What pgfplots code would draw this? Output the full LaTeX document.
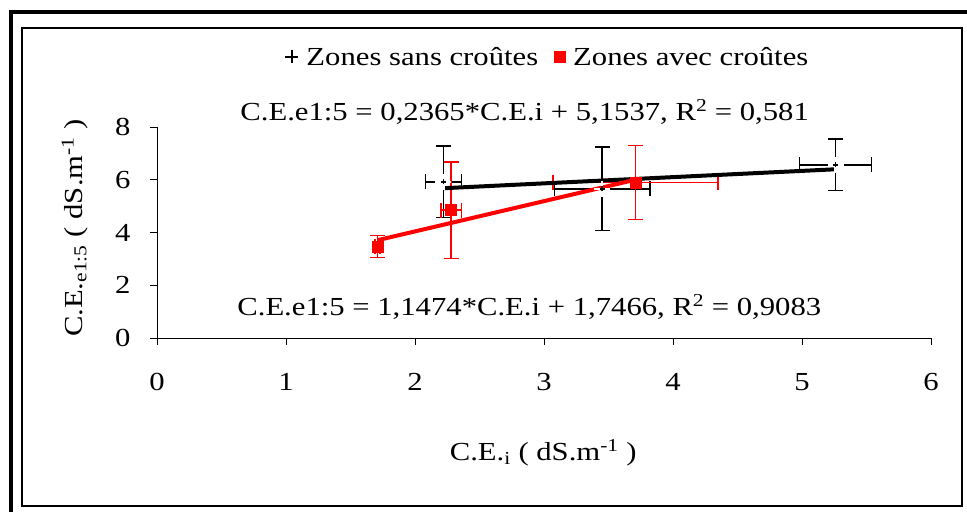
\documentclass[border=0pt]{standalone}
\usepackage{fontspec}
\setmainfont{Liberation Serif}[FakeStretch=1.18]
\usepackage{pgfplots}
\pgfplotsset{compat=1.18}
\usepackage{pgfplotstable}

% x  y  ex  ey : means with their standard deviations
\pgfplotstableread{
x     y     ex    ey
2.22  5.92  0.14  1.35
3.45  5.66  0.37  1.59
5.26  6.57  0.28  0.98
}\sanscroutes
\pgfplotstableread{
x     y     ex    ey
1.71  3.47  0.02  0.42
2.28  4.85  0.08  1.83
3.71  5.90  0.64  1.40
}\aveccroutes

\newcommand{\bigfont}{\fontsize{26bp}{31bp}\selectfont}

\pgfplotsset{
  errbars/.style={
    error bars/.cd, x dir=both, y dir=both, x explicit, y explicit,
    error bar style={line width=1.6bp, #1},
    error mark options={rotate=90, mark size=7.5bp, line width=1.6bp, #1},
  },
}

\begin{document}
\begin{tikzpicture}[font=\bigfont]
\useasboundingbox (0,0) rectangle (967bp,512bp);
% frames
\draw[line width=4bp] (11bp,0) -- (11bp,500bp) -- (967bp,500bp);
\draw[line width=1.5bp] (22bp,6bp) rectangle (962bp,484bp);

\begin{axis}[
  at={(157bp,174bp)}, anchor=south west,
  scale only axis, width=774bp, height=211bp,
  xmin=0, xmax=6, ymin=0, ymax=8,
  xtick={0,...,6}, ytick={0,2,...,8},
  axis x line=bottom, axis y line=left,
  axis line style={-, line width=1bp},
  tick align=outside, major tick length=7bp,
  tick style={line width=1bp, black},
  /pgf/number format/assume math mode=true,
  tick label style={font=\bigfont},
  xticklabel style={yshift=-25bp},
  yticklabel shift=16bp,
  label style={font=\bigfont},
  xlabel={C.E.\textsubscript{i} ( dS.m\textsuperscript{-1} )},
  ylabel={C.E.\textsubscript{e1:5} ( dS.m\textsuperscript{-1} )},
  xlabel style={at={(axis description cs:0.499,-0.545)}, anchor=center},
  ylabel style={at={(axis description cs:-0.106,0.521)}, anchor=center},
  clip=false,
  legend columns=2,
  legend style={at={(axis description cs:0.505,1.332)}, anchor=center,
    draw=none, fill=none, font=\bigfont,
    /tikz/every odd column/.append style={column sep=6bp},
    /tikz/every even column/.append style={column sep=14bp}},
  legend cell align=left,
]
\addplot[black, only marks, mark=+, mark size=6.5bp, mark options={line width=1.3bp},
  errbars=black]
  table[x=x, y=y, x error=ex, y error=ey] {\sanscroutes};
\addlegendentry{Zones sans croûtes}

\addplot[red, only marks, mark=square*, mark size=5.5bp, errbars=red]
  table[x=x, y=y, x error=ex, y error=ey] {\aveccroutes};
\addlegendentry{Zones avec croûtes}

% open centre of the black crosses
\addplot[white, only marks, mark=+, mark size=8bp, mark options={line width=2.4bp}, forget plot]
  table[x=x, y=y] {\sanscroutes};
\addplot[black, only marks, mark=+, mark size=2.5bp, mark options={line width=1.6bp}, forget plot]
  table[x=x, y=y] {\sanscroutes};

% regression lines
\addplot[black, line width=4bp, forget plot] coordinates {(2.22,5.6787) (5.26,6.3977)};
\addplot[red, line width=4bp, forget plot] coordinates {(1.71,3.7087) (3.71,6.0035)};

\node[anchor=base] at (rel axis cs:0.475,1.033)
  {C.E.e1:5 = 0,2365*C.E.i + 5,1537, R\textsuperscript{2} = 0,581};
\node[anchor=base] at (rel axis cs:0.481,0.109)
  {C.E.e1:5 = 1,1474*C.E.i + 1,7466, R\textsuperscript{2} = 0,9083};
\end{axis}
\end{tikzpicture}
\end{document}
